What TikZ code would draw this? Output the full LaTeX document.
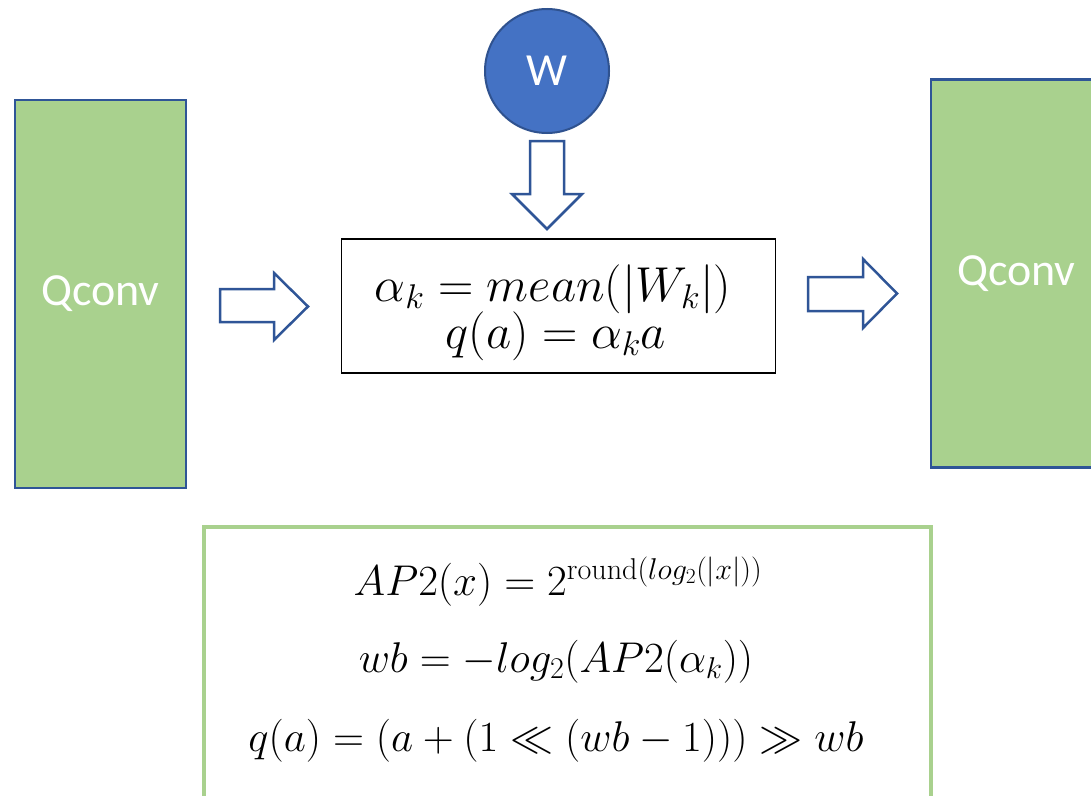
\RequirePackage{fix-cm}
\documentclass[tikz,border=0pt]{standalone}
\usepackage{fontspec}
\newfontfamily\calibri{Carlito}
\definecolor{qgreen}{HTML}{A9D18E}
\definecolor{qblue}{HTML}{2F5597}
\definecolor{wblue}{HTML}{4472C4}
\definecolor{wedge}{HTML}{2F528F}
\begin{document}
\begin{tikzpicture}[x=1pt,y=-1pt,
  qbox/.style={draw=qblue, fill=qgreen, line width=2.8pt, minimum width=171pt, minimum height=388pt, inner sep=0pt, font=\calibri\fontsize{46}{55}\selectfont, text=white},
  wnode/.style={circle, draw=wedge, fill=wblue, line width=2pt, minimum size=124pt, inner sep=0pt, font=\calibri\fontsize{46}{55}\selectfont, text=white},
  barrow/.style={draw=qblue, fill=white, line width=2.5pt, line join=miter},
  fbox/.style={draw=black, line width=1.5pt, minimum width=434pt, minimum height=134pt, inner sep=0pt},
  ftext/.style={anchor=base, inner sep=0pt, font=\fontsize{49}{58}\selectfont},
  gbox/.style={draw=qgreen, line width=3.5pt, minimum width=727pt, minimum height=300pt, inner sep=0pt, anchor=north west},
  gtext/.style={anchor=base, inner sep=0pt, font=\fontsize{43}{51}\selectfont}]
\clip (0,0) rectangle (1091,795);
\fill[white] (0,0) rectangle (1091,795);
\node[qbox] (q1) at (100.5,294) {Qconv};
\node[qbox] (q2) at (1016.5,273.5) {Qconv};
\node[wnode] (w) at (547,71) {W};
\node[fbox] (f) at (558.5,306) {};
\node[ftext] (f1) at (553,301) {$\alpha_k = mean(|W_k|)$};
\node[ftext] (f2) at (556,348) {$q(a) = \alpha_k a$};
\draw[barrow] (530,141) -- (564,141) -- (564,194) -- (582,194) -- (547,229) -- (512,194) -- (530,194) -- cycle;
\draw[barrow] (220,289) -- (274,289) -- (274,273) -- (308,306.5) -- (274,340) -- (274,322) -- (220,322) -- cycle;
\draw[barrow] (808,277) -- (863,277) -- (863,259) -- (897,293.5) -- (863,328) -- (863,311) -- (808,311) -- cycle;
\node[gbox] (b) at (202,525) {};
\node[gtext] (b1) at (558,595) {$AP2(x) = 2^{\mathrm{round}(log_2(|x|))}$};
\node[gtext] (b2) at (556,672) {$wb = -log_2(AP2(\alpha_k))$};
\node[gtext] (b3) at (556,751) {$q(a) = (a + (1 \ll (wb - 1))) \gg wb$};
\end{tikzpicture}
\end{document}
